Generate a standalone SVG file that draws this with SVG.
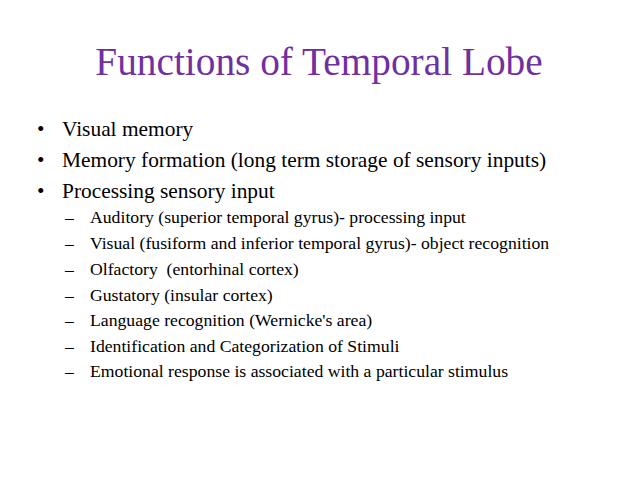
<svg xmlns="http://www.w3.org/2000/svg" width="638" height="479" viewBox="0 0 638 479">
<style>
text{font-family:"Liberation Serif","Times New Roman",serif;fill:#000}
.t{fill:#7030A0;font-size:39.3px}
.b{font-size:21.4px}
.s{font-size:17.7px}
</style>
<rect width="638" height="479" fill="#fff"/>
<text class="t" x="319" y="75" text-anchor="middle">Functions of Temporal Lobe</text>
<g>
<text class="b" x="37" y="136">•</text><text class="b" x="62" y="136">Visual memory</text>
<text class="b" x="37" y="167">•</text><text class="b" x="62" y="167">Memory formation (long term storage of sensory inputs)</text>
<text class="b" x="37" y="198">•</text><text class="b" x="62" y="198">Processing sensory input</text>
</g>
<g>
<text class="s" x="65" y="223">–</text><text class="s" x="90" y="223">Auditory (superior temporal gyrus)- processing input</text>
<text class="s" x="65" y="249">–</text><text class="s" x="90" y="249">Visual (fusiform and inferior temporal gyrus)- object recognition</text>
<text class="s" x="65" y="275">–</text><text class="s" x="90" y="275" xml:space="preserve">Olfactory  (entorhinal cortex)</text>
<text class="s" x="65" y="301">–</text><text class="s" x="90" y="301">Gustatory (insular cortex)</text>
<text class="s" x="65" y="326">–</text><text class="s" x="90" y="326">Language recognition (Wernicke's area)</text>
<text class="s" x="65" y="352">–</text><text class="s" x="90" y="352">Identification and Categorization of Stimuli</text>
<text class="s" x="65" y="377">–</text><text class="s" x="90" y="377">Emotional response is associated with a particular stimulus</text>
</g>
</svg>
